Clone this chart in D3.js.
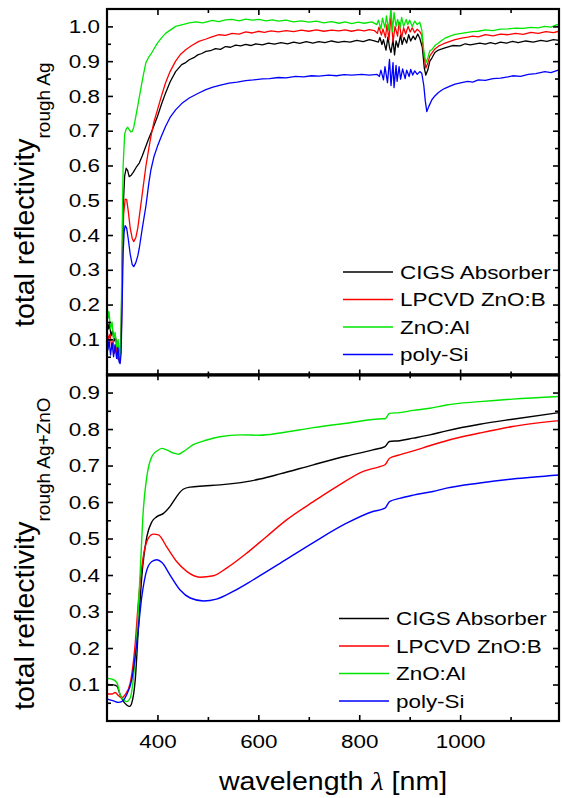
<!DOCTYPE html>
<html>
<head>
<meta charset="utf-8">
<script src="https://cdn.jsdelivr.net/npm/d3@7"></script>
<style>
  body { margin: 0; background: #fff; }
  svg text { font-family: "Liberation Sans", Arial, sans-serif; fill: #000; }
</style>
</head>
<body>
<script>
// ---- data ----
var seriesNames = ["CIGS Absorber", "LPCVD ZnO:B", "ZnO:Al", "poly-Si"];
var seriesColors = ["#000000", "#ff0000", "#00e600", "#0000ff"];

var wavelengthTicks = [400, 600, 800, 1000];
var wavelengthMinor = [500, 700, 900, 1100];
var topTicks = [0.1, 0.2, 0.3, 0.4, 0.5, 0.6, 0.7, 0.8, 0.9, 1.0];
var topMinor = [0.05, 0.15, 0.25, 0.35, 0.45, 0.55, 0.65, 0.75, 0.85, 0.95];
var bottomTicks = [0.1, 0.2, 0.3, 0.4, 0.5, 0.6, 0.7, 0.8, 0.9];
var bottomMinor = [0.05, 0.15, 0.25, 0.35, 0.45, 0.55, 0.65, 0.75, 0.85];

// rough Ag
var cigsAg = [[300,.155],[303,.13],[305,.145],[308,.11],[311,.125],[314,.095],[317,.105],[320,.075],[323,.06],[326,.07],[328,.12],[330,.3],[332,.48],[335,.57],[338,.592],[341,.585],[344,.568],[348,.572],[352,.58],[358,.595],[364,.607],[370,.628],[377,.655],[383,.678],[390,.703],[395,.722],[400,.741],[408,.776],[416,.808],[425,.84],[436,.87],[448,.89],[456,.896],[463,.904],[472,.91],[480,.918],[488,.922],[496,.928],[505,.93],[515,.936],[525,.934],[535,.942],[545,.94],[555,.946],[565,.944],[575,.948],[585,.945],[595,.95],[608,.947],[620,.952],[632,.949],[645,.953],[658,.95],[670,.955],[682,.951],[695,.956],[708,.952],[720,.956],[732,.953],[745,.958],[758,.954],[770,.957],[782,.955],[795,.96],[808,.956],[820,.962],[830,.958],[838,.955],[841,.968],[845,.948],[848,.962],[853,.932],[857,.97],[860,.94],[863,.925],[867,.962],[870,.918],[873,.958],[877,.94],[882,.975],[885,.948],[889,.968],[894,.952],[898,.976],[902,.958],[907,.972],[911,.962],[916,.978],[920,.966],[925,.94],[929,.88],[932,.86],[936,.875],[940,.9],[944,.909],[950,.925],[957,.932],[964,.935],[970,.938],[985,.945],[1000,.944],[1010,.95],[1020,.947],[1039,.952],[1050,.949],[1060,.953],[1070,.95],[1080,.955],[1092,.952],[1104,.957],[1115,.953],[1130,.958],[1145,.955],[1160,.96],[1172,.957],[1185,.962],[1196,.96]];
var zncbAg = [[300,.125],[303,.1],[306,.115],[309,.08],[312,.095],[315,.06],[318,.075],[321,.045],[324,.04],[327,.06],[329,.15],[331,.35],[333,.46],[336,.503],[339,.502],[342,.47],[346,.42],[350,.39],[353,.381],[357,.392],[361,.42],[364,.453],[370,.52],[377,.597],[383,.65],[387,.683],[393,.725],[400,.76],[408,.8],[416,.837],[425,.87],[436,.9],[446,.92],[456,.933],[468,.945],[482,.957],[495,.963],[508,.97],[522,.976],[535,.974],[548,.98],[562,.978],[575,.984],[588,.981],[600,.986],[612,.983],[625,.987],[640,.984],[655,.988],[670,.985],[685,.989],[700,.986],[715,.99],[730,.986],[745,.989],[760,.987],[772,.99],[785,.986],[798,.99],[810,.987],[820,.991],[830,.988],[836,.98],[839,.998],[844,.975],[847,.993],[852,.968],[855,1.005],[859,.962],[863,1.032],[867,.955],[871,1.0],[876,.972],[879,1.012],[884,.966],[888,.996],[892,.978],[897,1.0],[901,.984],[905,.996],[910,.982],[915,.992],[920,.985],[924,.975],[928,.92],[932,.88],[936,.895],[940,.915],[944,.923],[950,.935],[957,.943],[964,.948],[970,.952],[980,.957],[990,.962],[1003,.966],[1015,.969],[1025,.972],[1036,.97],[1050,.976],[1065,.973],[1080,.978],[1095,.976],[1110,.98],[1125,.977],[1140,.983],[1155,.98],[1170,.985],[1185,.982],[1196,.986]];
var znoaAg = [[300,.205],[302,.16],[304,.18],[307,.13],[310,.15],[313,.1],[316,.12],[319,.08],[322,.1],[324,.06],[326,.05],[328,.12],[330,.4],[332,.6],[335,.69],[338,.705],[341,.71],[344,.703],[347,.697],[350,.698],[353,.71],[357,.74],[362,.78],[367,.82],[372,.86],[377,.895],[382,.91],[387,.92],[393,.935],[400,.952],[408,.967],[416,.98],[426,.99],[436,1.0],[450,1.005],[463,1.01],[476,1.013],[490,1.01],[509,1.017],[522,1.014],[535,1.019],[548,1.02],[562,1.016],[575,1.021],[588,1.018],[601,1.02],[615,1.016],[628,1.019],[640,1.015],[655,1.018],[670,1.013],[685,1.016],[700,1.012],[715,1.015],[730,1.01],[745,1.014],[760,1.009],[772,1.013],[785,1.008],[798,1.012],[810,1.009],[825,1.013],[835,1.005],[838,1.018],[843,.992],[846,1.024],[851,.996],[854,1.03],[858,.99],[863,1.05],[866,.985],[869,1.04],[873,1.0],[876,1.02],[881,.996],[884,1.026],[888,1.0],[893,1.02],[896,1.005],[900,1.018],[905,1.0],[910,1.015],[915,1.005],[920,1.012],[924,.99],[928,.93],[932,.895],[936,.91],[940,.93],[944,.933],[950,.945],[957,.952],[964,.96],[970,.966],[980,.972],[990,.977],[1003,.98],[1015,.983],[1025,.985],[1036,.986],[1050,.99],[1065,.988],[1080,.992],[1095,.993],[1110,.995],[1125,.994],[1140,.997],[1155,.996],[1168,1.0],[1180,.998],[1192,1.005],[1196,1.003]];
var polyAg = [[300,.107],[302,.07],[304,.1],[307,.055],[310,.09],[313,.05],[316,.085],[319,.045],[322,.075],[324,.035],[326,.03],[328,.06],[330,.2],[332,.35],[334,.41],[336,.427],[339,.42],[342,.39],[346,.345],[350,.315],[353,.309],[357,.32],[361,.34],[364,.362],[370,.42],[377,.482],[383,.55],[387,.587],[393,.625],[400,.655],[408,.685],[416,.712],[425,.738],[436,.76],[448,.778],[463,.794],[480,.807],[496,.818],[510,.825],[525,.831],[542,.837],[558,.84],[575,.844],[590,.846],[608,.849],[622,.85],[640,.853],[655,.852],[674,.856],[690,.855],[705,.858],[720,.857],[739,.86],[755,.858],[770,.861],[785,.86],[805,.862],[820,.86],[835,.862],[840,.856],[843,.874],[848,.846],[851,.884],[856,.838],[860,.905],[863,.83],[867,.896],[869,.824],[873,.888],[875,.842],[879,.884],[882,.848],[886,.878],[891,.85],[894,.874],[899,.856],[902,.876],[906,.86],[910,.872],[915,.862],[920,.87],[924,.865],[928,.83],[931,.785],[934,.755],[938,.77],[944,.789],[950,.8],[957,.81],[964,.817],[970,.822],[980,.828],[990,.834],[1003,.838],[1015,.842],[1025,.84],[1036,.846],[1050,.845],[1065,.85],[1080,.851],[1095,.855],[1104,.858],[1120,.856],[1135,.862],[1150,.864],[1168,.87],[1180,.867],[1196,.875]];

// rough Ag + ZnO
var cigsZnO = [[300,.1],[313,.099],[320,.095],[326,.072],[333,.053],[339,.044],[345,.04],[349,.049],[356,.113],[362,.25],[369,.396],[379,.505],[389,.546],[399,.56],[412,.569],[425,.588],[438,.615],[451,.635],[465,.641],[491,.644],[524,.647],[577,.656],[603,.663],[643,.677],[709,.702],[775,.726],[827,.743],[851,.752],[860,.766],[880,.768],[907,.775],[940,.784],[973,.795],[1039,.813],[1104,.827],[1196,.845]];
var zncbZnO = [[300,.074],[310,.074],[316,.078],[323,.069],[329,.063],[336,.072],[346,.104],[356,.213],[362,.323],[372,.451],[382,.501],[392,.512],[402,.51],[418,.478],[438,.437],[458,.41],[484,.394],[511,.398],[537,.419],[577,.46],[616,.505],[656,.551],[709,.601],[761,.647],[808,.684],[841,.697],[851,.702],[860,.72],[880,.729],[907,.74],[946,.757],[973,.768],[1039,.789],[1104,.807],[1196,.823]];
var znoaZnO = [[300,.117],[313,.113],[320,.104],[326,.072],[333,.058],[339,.053],[346,.063],[352,.113],[359,.23],[366,.414],[372,.579],[379,.67],[389,.725],[399,.74],[409,.747],[418,.743],[432,.734],[442,.731],[451,.738],[471,.757],[498,.77],[524,.779],[564,.784],[603,.783],[643,.789],[709,.804],[775,.816],[847,.828],[851,.828],[860,.843],[880,.845],[907,.851],[940,.857],[973,.866],[1039,.875],[1104,.882],[1196,.889]];
var polyZnO = [[300,.06],[313,.055],[323,.051],[329,.053],[339,.072],[349,.113],[359,.213],[369,.341],[379,.414],[389,.437],[399,.442],[409,.434],[425,.4],[445,.359],[465,.337],[491,.329],[517,.334],[550,.355],[590,.387],[643,.432],[709,.489],[775,.542],[827,.574],[851,.583],[860,.601],[880,.61],[907,.619],[946,.629],[973,.638],[1039,.652],[1104,.663],[1196,.674]];

var topSeries = [cigsAg, zncbAg, znoaAg, polyAg];
var bottomSeries = [cigsZnO, zncbZnO, znoaZnO, polyZnO];

// ---- layout ----
var width = 562, height = 798;
var left = 107, right = 559;
var stretch = 1.18; // horizontal text are a bit wide in the original

var svg = d3.select("body").append("svg")
  .attr("width", width)
  .attr("height", height);

var x = d3.scaleLinear().domain([300, 1196]).range([left, right]);

function drawPanel(opts) {
  var y = d3.scaleLinear().domain(opts.domain).range(opts.range);
  var g = svg.append("g");

  var line = d3.line()
    .x(function(d) { return x(d[0]); })
    .y(function(d) { return y(d[1]); })
    .curve(opts.curve);

  g.append("g").selectAll("path")
    .data(opts.series)
    .enter().append("path")
    .attr("fill", "none")
    .attr("stroke", function(d, i) { return seriesColors[i]; })
    .attr("stroke-width", opts.lineWidth)
    .attr("stroke-linejoin", "round")
    .attr("d", line);

  var yTop = opts.range[1], yBot = opts.range[0];

  // axes, ticks pointing inward
  function axisStyle(sel) {
    sel.select(".domain").remove();
    sel.selectAll(".tick line").attr("stroke", "#000").attr("stroke-width", 1.6);
    sel.selectAll(".tick text")
      .style("font-size", "19px")
      .attr("fill", "#000")
      .attr("transform", "scale(" + stretch + ",1)");
  }

  g.append("g").attr("transform", "translate(" + left + ",0)")
    .call(d3.axisLeft(y).tickValues(opts.ticks).tickSize(-6).tickPadding(6).tickFormat(d3.format(".1f")))
    .call(axisStyle);
  g.append("g").attr("transform", "translate(" + left + ",0)")
    .call(d3.axisLeft(y).tickValues(opts.minor).tickSize(-4).tickFormat(""))
    .call(axisStyle);
  g.append("g").attr("transform", "translate(" + right + ",0)")
    .call(d3.axisRight(y).tickValues(opts.ticks).tickSize(-6).tickFormat(""))
    .call(axisStyle);
  g.append("g").attr("transform", "translate(" + right + ",0)")
    .call(d3.axisRight(y).tickValues(opts.minor).tickSize(-4).tickFormat(""))
    .call(axisStyle);

  g.append("g").attr("transform", "translate(0," + yBot + ")")
    .call(d3.axisBottom(x).tickValues(wavelengthTicks).tickSize(-6).tickPadding(14)
      .tickFormat(opts.xLabels ? d3.format("d") : ""))
    .call(axisStyle);
  g.append("g").attr("transform", "translate(0," + yBot + ")")
    .call(d3.axisBottom(x).tickValues(wavelengthMinor).tickSize(-4).tickFormat(""))
    .call(axisStyle);
  g.append("g").attr("transform", "translate(0," + yTop + ")")
    .call(d3.axisTop(x).tickValues(wavelengthTicks).tickSize(-6).tickFormat(""))
    .call(axisStyle);
  g.append("g").attr("transform", "translate(0," + yTop + ")")
    .call(d3.axisTop(x).tickValues(wavelengthMinor).tickSize(-4).tickFormat(""))
    .call(axisStyle);

  // frame
  g.append("rect")
    .attr("x", left).attr("y", yTop)
    .attr("width", right - left).attr("height", yBot - yTop)
    .attr("fill", "none").attr("stroke", "#000").attr("stroke-width", 2.2);

  // legend
  var leg = g.append("g").selectAll("g")
    .data(seriesNames)
    .enter().append("g")
    .attr("transform", function(d, i) { return "translate(" + opts.legendX + "," + (opts.legendY + i * 27.5) + ")"; });
  leg.append("line")
    .attr("x1", 0).attr("x2", 50)
    .attr("stroke", function(d, i) { return seriesColors[i]; })
    .attr("stroke-width", 1.5);
  leg.append("text")
    .attr("transform", "translate(57,0) scale(" + stretch + ",1)")
    .attr("dy", "0.36em")
    .style("font-size", "19px")
    .text(function(d) { return d; });

  // y title (reads bottom to top, starts at opts.titleStart)
  var title = g.append("text")
    .attr("transform", "translate(34," + opts.titleStart + ") rotate(-90)")
    .attr("text-anchor", "start")
    .style("font-size", "28.5px");
  title.append("tspan").text("total reflectivity");
  title.append("tspan").attr("dy", 16).style("font-size", "19px").text(opts.sub);
}

drawPanel({
  series: topSeries,
  domain: [-0.004, 1.05], range: [375.5, 9],
  ticks: topTicks, minor: topMinor,
  curve: d3.curveLinear, lineWidth: 1.3,
  legendX: 343, legendY: 272,
  sub: "rough Ag", xLabels: false,
  titleStart: 327
});

drawPanel({
  series: bottomSeries,
  domain: [0, 0.95], range: [721, 374.3],
  ticks: bottomTicks, minor: bottomMinor,
  curve: d3.curveMonotoneX, lineWidth: 1.4,
  legendX: 339, legendY: 618.5,
  sub: "rough Ag+ZnO", xLabels: true,
  titleStart: 710
});

// x title
var xt = svg.append("text")
  .attr("transform", "translate(" + ((left + right) / 2) + ",790) scale(1.12,1)")
  .attr("text-anchor", "middle")
  .style("font-size", "25.5px");
xt.append("tspan").text("wavelength ");
xt.append("tspan").style("font-family", "'Liberation Serif', serif").style("font-style", "italic").text("λ");
xt.append("tspan").text(" [nm]");
</script>
</body>
</html>
